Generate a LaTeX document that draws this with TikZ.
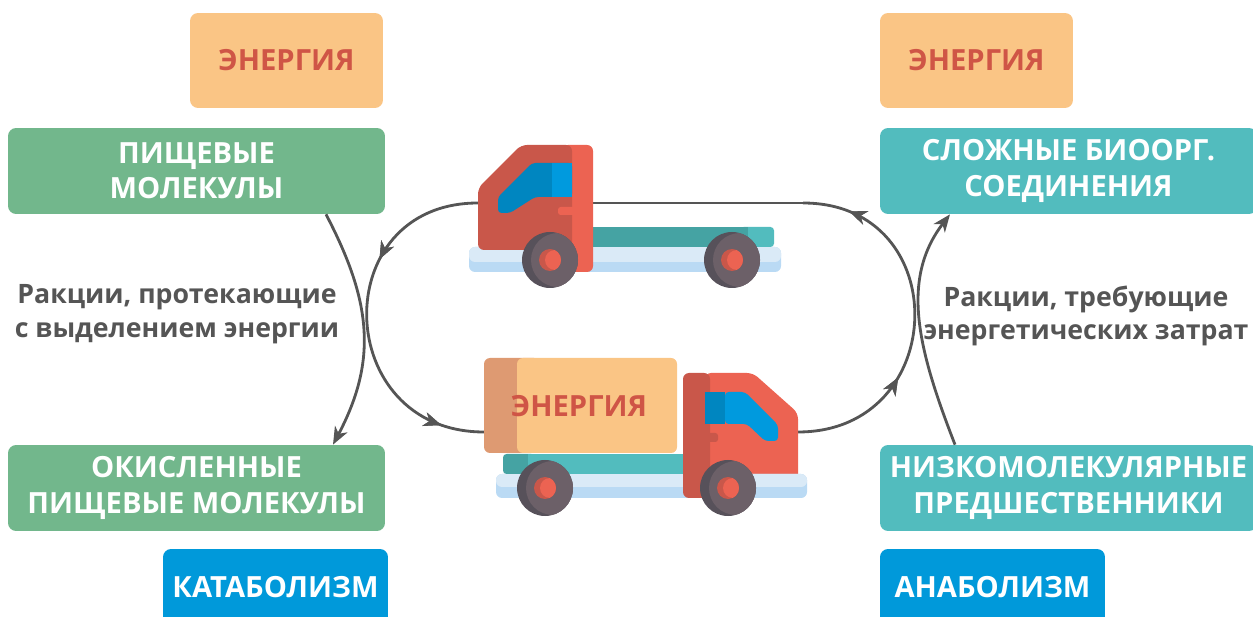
\documentclass[tikz,border=0pt]{standalone}
\usepackage{fontspec}
\setmainfont{Open Sans}
\usetikzlibrary{calc,arrows.meta,decorations.markings}

\begin{document}
\begin{tikzpicture}[x=0.02cm, y=-0.02cm,
    box/.style={rectangle, rounded corners=0.16cm, text=white, align=center,
        font=\bfseries\fontsize{16.6}{20}\selectfont, inner sep=0pt,
        minimum width=7.54cm, minimum height=1.72cm},
    energybox/.style={rectangle, rounded corners=0.16cm, fill=energy, text=energytext,
        font=\bfseries\fontsize{16.6}{20}\selectfont, minimum width=3.86cm, minimum height=1.9cm},
    phasebox/.style={rectangle, rounded corners=0.16cm, fill=phase, text=white,
        font=\bfseries\fontsize{16.6}{20}\selectfont, minimum width=4.5cm, minimum height=1.52cm},
    rxn/.style={text=textgray, align=center, font=\bfseries\fontsize{15.2}{19}\selectfont},
    conn/.style={draw=linegray, line width=1.6pt},
    tip/.style={-{Stealth[length=10pt,width=8pt,inset=3pt]}},
    midtips/.style={decoration={markings,
        mark=at position #1 with {\arrow{Stealth[length=10pt,width=8pt,inset=3pt]}}},
        postaction={decorate}}
]

    % Цвета
    \definecolor{energy}{RGB}{250,197,133}
    \definecolor{energytext}{RGB}{207,85,70}
    \definecolor{catcolor}{RGB}{114,183,140}   % зелёный
    \definecolor{anacolor}{RGB}{82,188,190}    % бирюзовый
    \definecolor{phase}{RGB}{0,153,218}        % синий
    \definecolor{textgray}{RGB}{85,85,85}
    \definecolor{linegray}{RGB}{85,85,85}
    \definecolor{cabdark}{RGB}{201,87,74}
    \definecolor{cablight}{RGB}{236,99,82}
    \definecolor{windark}{RGB}{0,134,192}
    \definecolor{winlight}{RGB}{0,154,222}
    \definecolor{beddark}{RGB}{69,163,163}
    \definecolor{chassistop}{RGB}{218,234,247}
    \definecolor{chassislow}{RGB}{186,218,244}
    \definecolor{wheeldark}{RGB}{87,81,90}
    \definecolor{wheellight}{RGB}{108,96,104}
    \definecolor{boxdark}{RGB}{222,154,114}

    \useasboundingbox (0,0) rectangle (1253,617);

    % Точки цикла переноса энергии
    \coordinate (topcab) at (478,203);
    \coordinate (bedend) at (593,203);
    \coordinate (arctop) at (803,203);
    \coordinate (boxend) at (484,432);
    \coordinate (cabend) at (798,432);

    % Цикл: левая и правая дуги
    \draw[conn, midtips=0.33, midtips=0.88] (topcab) to[out=180, in=180, looseness=1.7] (boxend);
    \draw[conn, midtips=0.33, midtips=0.87] (cabend) to[out=0, in=0, looseness=1.7] (arctop);
    \draw[conn] (arctop) -- (bedend);

    % Верхний грузовик (порожний, едет влево)
    \fill[chassislow, rounded corners=0.12cm] (469,247) rectangle (781,272);
    \fill[chassistop, rounded corners=0.12cm] (469,247) rectangle (781,262);
    \fill[anacolor, rounded corners=2pt] (740,227) rectangle (774,247);
    \fill[beddark] (593,227) rectangle (748,247);
    \fill[cablight, rounded corners=0.12cm] (562,145) rectangle (593,272);
    \fill[cabdark, rounded corners=0.12cm] (478,250) -- (478,188) -- (521,145) -- (572,145) -- (572,250) -- cycle;
    \fill[windark, rounded corners=2pt] (498,213) -- (498,197) -- (532,163) -- (572,163) -- (572,197) -- (535,197) -- (510,213) -- cycle;
    \fill[winlight] (552,163) rectangle (572,197);
    \fill[cablight, rounded corners=1.5pt] (558,207) rectangle (576,215);

    % Нижний грузовик (с грузом, едет вправо)
    \fill[cablight, rounded corners=0.12cm] (705,373) -- (753,373) -- (798,413) -- (798,480) -- (705,480) -- cycle;
    \fill[chassislow, rounded corners=0.12cm] (496,474) rectangle (807,498);
    \fill[chassistop, rounded corners=0.12cm] (496,474) rectangle (807,487);
    \fill[beddark, rounded corners=2pt] (503,454) rectangle (535,474);
    \fill[anacolor] (528,454) rectangle (690,474);
    \fill[boxdark, rounded corners=0.12cm] (484,358) rectangle (540,453);
    \fill[energy, rounded corners=0.12cm] (517,358) rectangle (677,453);
    \node[text=energytext, font=\bfseries\fontsize{16.6}{20}\selectfont] (cargo) at (579,406) {ЭНЕРГИЯ};
    \fill[cabdark, rounded corners=0.12cm] (683,373) rectangle (710,498);
    \fill[windark] (705,392) rectangle (725,424);
    \fill[winlight, rounded corners=2pt] (725,392) -- (745,392) -- (778,425) -- (778,441) -- (765,441) -- (747,424) -- (725,424) -- cycle;
    \fill[cabdark, rounded corners=1.5pt] (702,433) rectangle (718,442);

    % Колёса
    \foreach \wx/\wy in {550/260, 732/260, 545/488, 728/488} {
        \fill[wheeldark] (\wx,\wy) circle (28);
        \begin{scope}
            \clip (\wx,\wy) circle (28);
            \fill[wheellight] (\wx+8,\wy) circle (27);
        \end{scope}
        \fill[cabdark] (\wx,\wy) circle (11);
        \begin{scope}
            \clip (\wx,\wy) circle (11);
            \fill[cablight] (\wx+5,\wy) circle (10);
        \end{scope}
    }

    % Энергия
    \node[energybox] (energyL) at (286.5,60.5) {ЭНЕРГИЯ};
    \node[energybox] (energyR) at (976.5,60.5) {ЭНЕРГИЯ};

    % Катаболизм
    \node[box, fill=catcolor] (foodmol) at (196.5,171) {ПИЩЕВЫЕ\\МОЛЕКУЛЫ};
    \node[box, fill=catcolor] (oxfood) at (196.5,488) {ОКИСЛЕННЫЕ\\ПИЩЕВЫЕ МОЛЕКУЛЫ};
    \node[phasebox] (catab) at (275.5,587) {КАТАБОЛИЗМ};

    % Анаболизм
    \node[box, fill=anacolor] (biocomp) at (1068.5,171) {СЛОЖНЫЕ БИООРГ.\\СОЕДИНЕНИЯ};
    \node[box, fill=anacolor] (precursor) at (1068.5,488) {НИЗКОМОЛЕКУЛЯРНЫЕ\\ПРЕДШЕСТВЕННИКИ};
    \node[phasebox] (anab) at (992.5,587) {АНАБОЛИЗМ};

    % Подписи реакций
    \node[rxn] (rxnL) at (177,314) {Ракции, протекающие\\с выделением энергии};
    \node[rxn] (rxnR) at (1086,316) {Ракции, требующие\\энергетических затрат};

    % Превращения веществ
    \draw[conn, tip] ($(foodmol.south)+(129.5,0)$) .. controls +(45,86) and +(45,-85) .. ($(oxfood.north)+(136.5,0)$);
    \draw[conn, tip] ($(precursor.north)+(-113.5,0)$) .. controls +(-37,-95) and +(-50,65) .. ($(biocomp.south)+(-118.5,0)$);
\end{tikzpicture}
\end{document}
